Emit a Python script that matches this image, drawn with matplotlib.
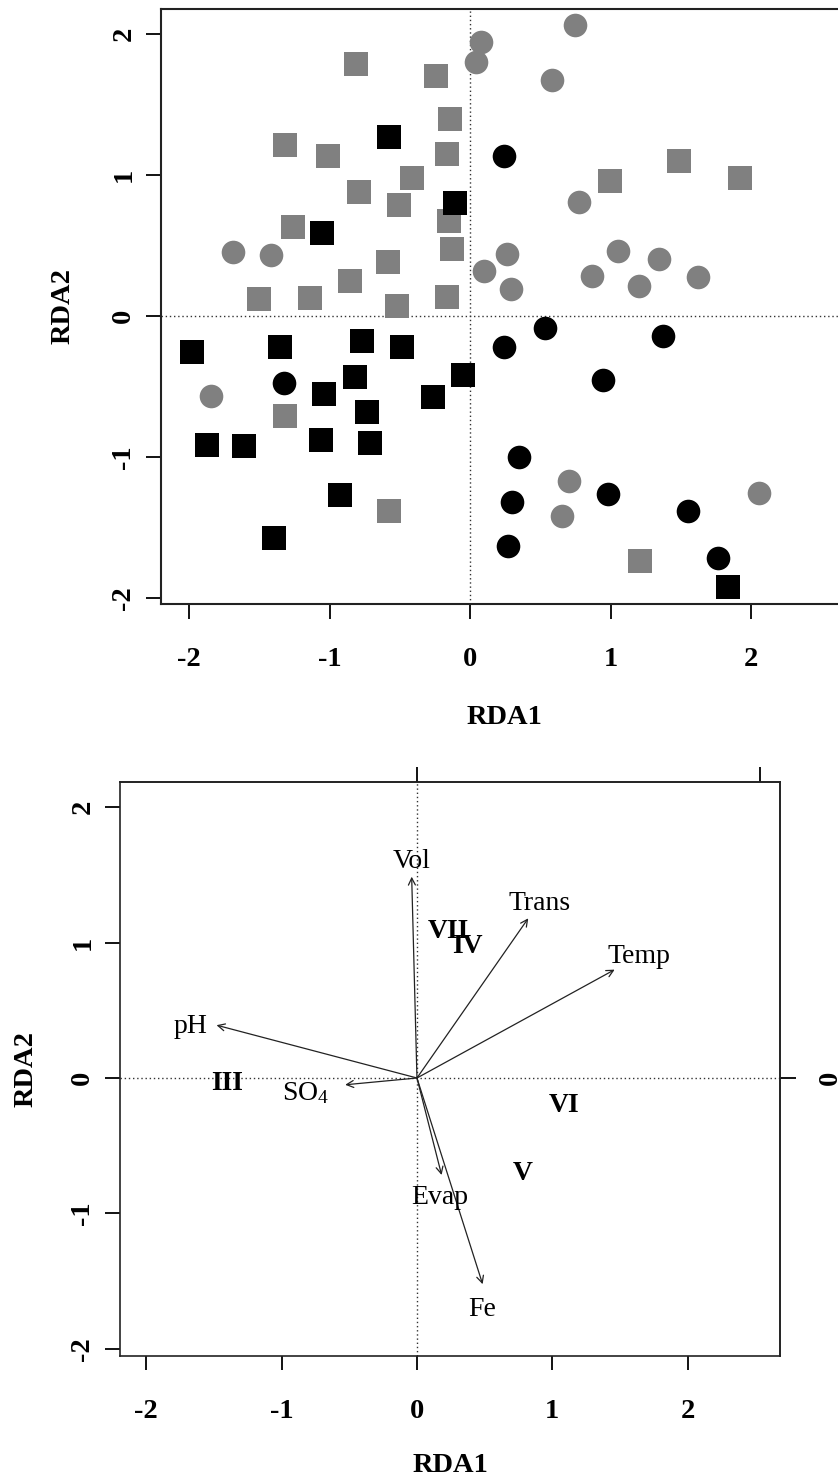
import matplotlib
matplotlib.use("Agg")
import matplotlib.pyplot as plt
from matplotlib.patches import FancyArrowPatch

plt.rcParams['font.family'] = ['Liberation Serif', 'DejaVu Serif']
plt.rcParams['axes.unicode_minus'] = False
plt.rcParams['mathtext.fontset'] = 'custom'
plt.rcParams['mathtext.rm'] = 'Liberation Serif'
plt.rcParams['mathtext.it'] = 'Liberation Serif:italic'
plt.rcParams['mathtext.bf'] = 'Liberation Serif:bold'

# ---------------- data: top panel (site scores) ----------------
gray_sq_x = [-0.81, -1.315, -1.013, -0.41, -0.788, -0.507, -1.258, -0.586, -0.854, -1.5,
             -1.137, -0.522, -0.24, -0.142, -0.161, 1.487, 1.924, 0.994, -0.149, -0.126,
             -0.161, -1.315, -0.574, 1.208]
gray_sq_y = [1.785, 1.213, 1.135, 0.98, 0.877, 0.787, 0.631, 0.385, 0.25, 0.118,
             0.128, 0.073, 1.70, 1.40, 1.147, 1.10, 0.979, 0.955, 0.676, 0.473,
             0.137, -0.711, -1.383, -1.74]

black_sq_x = [-0.574, -1.056, -0.104, -1.976, -1.35, -0.767, -0.486, -1.037, -0.816, -0.731,
              -1.874, -1.606, -1.058, -0.71, -0.927, -1.393, -0.261, -0.047, 1.839]
black_sq_y = [1.267, 0.586, 0.799, -0.253, -0.218, -0.175, -0.22, -0.555, -0.433, -0.679,
              -0.915, -0.924, -0.879, -0.903, -1.272, -1.572, -0.577, -0.42, -1.92]

gray_ci_x = [-1.685, -1.416, 0.747, 0.076, 0.043, 0.581, 0.776, 0.266, 0.1, 0.29,
             1.051, 1.343, 0.871, 1.20, 1.623, -1.841, 0.702, 0.657, 2.059]
gray_ci_y = [0.452, 0.433, 2.06, 1.94, 1.80, 1.674, 0.809, 0.44, 0.321, 0.194,
             0.463, 0.406, 0.284, 0.21, 0.274, -0.567, -1.17, -1.418, -1.255]

black_ci_x = [0.244, -1.322, 0.534, 0.244, 1.376, 0.949, 0.346, 0.985, 0.299, 1.554, 0.27, 1.767]
black_ci_y = [1.133, -0.477, -0.087, -0.22, -0.142, -0.456, -1.002, -1.26, -1.317, -1.383, -1.631, -1.718]

# ---------------- data: bottom panel (biplot) ----------------
var_names = ['Vol', 'Trans', 'Temp', 'pH', r'SO$_{\mathrm{4}}$', 'Evap', 'Fe']
var_x = [-0.039, 0.822, 1.46, -1.48, -0.53, 0.182, 0.485]
var_y = [1.486, 1.179, 0.80, 0.39, -0.05, -0.716, -1.522]
lab_x = [-0.04, 0.908, 1.64, -1.67, -0.82, 0.17, 0.478]
lab_y = [1.597, 1.289, 0.90, 0.38, -0.11, -0.88, -1.712]

group_names = ['VII', 'IV', 'III', 'VI', 'V']
group_x = [0.231, 0.372, -1.402, 1.085, 0.78]
group_y = [1.08, 0.969, -0.044, -0.204, -0.703]

tick_vals = [-2, -1, 0, 1, 2]
tick_labels = ['-2', '-1', '0', '1', '2']
top_ticks2 = [0, 2.53]
right_ticks2 = [0]
right_labels2 = ['0']

GRAY = '#808080'
SPINE = '#222222'
FS_TICK = 20.5
FS_LAB = 20.5
FS_TXT = 20

fig = plt.figure(figsize=(8.38, 14.83), dpi=100)

def style_axes(ax, xpad, ypad, xlen, ylen, lw):
    ax.set_xticks(tick_vals)
    ax.set_xticklabels(tick_labels, fontsize=FS_TICK, fontweight='bold')
    ax.set_yticks(tick_vals)
    ax.set_yticklabels(tick_labels, fontsize=FS_TICK, fontweight='bold',
                       rotation=90, va='center')
    ax.tick_params(axis='x', direction='out', length=xlen, width=1.3, pad=xpad, colors='black')
    ax.tick_params(axis='y', direction='out', length=ylen, width=1.3, pad=ypad, colors='black')
    for s in ax.spines.values():
        s.set_linewidth(lw)
        s.set_color(SPINE)
    ax.set_xlabel('RDA1', fontsize=FS_LAB, fontweight='bold', va='center')
    ax.set_ylabel('RDA2', fontsize=FS_LAB, fontweight='bold', va='center')
    ax.xaxis.set_label_coords(0.5, -0.19)
    ax.yaxis.set_label_coords(-0.143, 0.5)

# ---------------- top panel ----------------
ax1 = fig.add_axes([161/838, 1-604/1483, 686/838, 595/1483])
ax1.set_xlim(-2.2, 2.683)
ax1.set_ylim(-2.043, 2.177)
ax1.axhline(0, color='#333333', lw=1.0, ls=(0, (1, 2)), zorder=1)
ax1.axvline(0, color='#333333', lw=1.0, ls=(0, (1, 2)), zorder=1)
ms = 17
ax1.plot(gray_sq_x, gray_sq_y, ls='none', marker='s', ms=ms, mew=0, color=GRAY, zorder=2)
ax1.plot(gray_ci_x, gray_ci_y, ls='none', marker='o', ms=ms, mew=0, color=GRAY, zorder=2)
ax1.plot(black_sq_x, black_sq_y, ls='none', marker='s', ms=ms, mew=0, color='black', zorder=3)
ax1.plot(black_ci_x, black_ci_y, ls='none', marker='o', ms=ms, mew=0, color='black', zorder=3)
style_axes(ax1, xpad=20, ypad=7, xlen=10.8, ylen=10.8, lw=1.5)

# ---------------- bottom panel ----------------
ax2 = fig.add_axes([120/838, 1-1356/1483, 660/838, 574/1483])
ax2.set_xlim(-2.193, 2.681)
ax2.set_ylim(-2.052, 2.185)
ax2.axhline(0, color='#333333', lw=1.0, ls=(0, (1, 2)), zorder=1)
ax2.axvline(0, color='#333333', lw=1.0, ls=(0, (1, 2)), zorder=1)
for vx, vy in zip(var_x, var_y):
    arr = FancyArrowPatch((0, 0), (vx, vy), arrowstyle='->,head_length=0.5,head_width=0.25',
                          mutation_scale=10, shrinkA=0, shrinkB=0, lw=0.9,
                          color='#222222', zorder=3)
    ax2.add_patch(arr)
for nm, lx, ly in zip(var_names, lab_x, lab_y):
    ax2.text(lx, ly, nm, fontsize=FS_TXT, ha='center', va='center', zorder=4)
for nm, gx, gy in zip(group_names, group_x, group_y):
    ax2.text(gx, gy, nm, fontsize=FS_TXT, fontweight='bold', ha='center', va='center', zorder=4)
style_axes(ax2, xpad=21, ypad=7, xlen=9.8, ylen=10.8, lw=1.2)

sx = ax2.secondary_xaxis('top')
sx.set_xticks(top_ticks2)
sx.set_xticklabels(['', ''])
sx.tick_params(direction='out', length=10.8, width=1.3)
sx.spines['top'].set_linewidth(1.2)
sx.spines['top'].set_color(SPINE)

sy = ax2.secondary_yaxis('right')
sy.set_yticks(right_ticks2)
sy.set_yticklabels(right_labels2, fontsize=FS_TICK, fontweight='bold', rotation=90, va='center')
sy.tick_params(direction='out', length=11.5, width=1.3, pad=16)
sy.spines['right'].set_linewidth(1.2)
sy.spines['right'].set_color(SPINE)

fig.savefig('out.png', dpi=100)
